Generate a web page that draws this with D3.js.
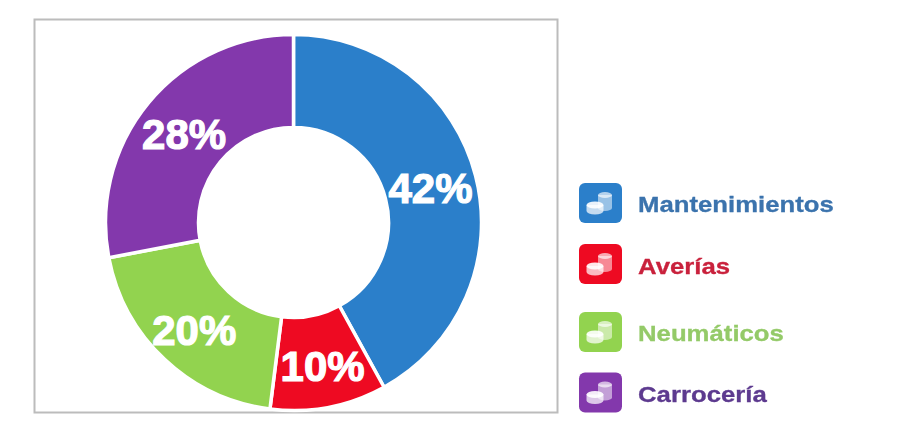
<!DOCTYPE html>
<html>
<head>
<meta charset="utf-8">
<script src="https://cdn.jsdelivr.net/npm/d3@7"></script>
<style>
html,body{margin:0;padding:0;background:#fff;overflow:hidden}
svg{display:block;filter:blur(0.45px)}
text{font-family:"Liberation Sans",Arial,sans-serif;font-weight:700}
</style>
</head>
<body>
<svg id="c" width="900" height="445"></svg>
<script>
const categories = ["Mantenimientos", "Averías", "Neumáticos", "Carrocería"];
const values = [42, 10, 20, 28];
const sliceColors = ["#2b7fca", "#ee0a22", "#92d34f", "#8338ac"];
const textColors = ["#3b73ad", "#c9213c", "#94ca68", "#5d3a8f"];

const svg = d3.select("#c");
svg.append("rect").attr("x", 34.5).attr("y", 19.5).attr("width", 523).attr("height", 393)
  .attr("fill", "#fff").attr("stroke", "#bcbcbc").attr("stroke-width", 2);

const cx = 293.5, cy = 222.5;
const pie = d3.pie().sort(null).value(d => d)(values);
const arc = d3.arc().innerRadius(95).outerRadius(188);
const g = svg.append("g").attr("transform", `translate(${cx},${cy})`);
g.selectAll("path").data(pie).join("path")
  .attr("d", arc)
  .attr("fill", (d, i) => sliceColors[i])
  .attr("stroke", "#fff").attr("stroke-width", 3.5).attr("stroke-linejoin", "miter");

// label centres along the ring, offset from the arc centroid like the reference
const labelShift = [[-0.5, 1], [2.5, 4], [-2, 4], [0, 2]];
const labelArc = d3.arc().innerRadius(142).outerRadius(142);
g.selectAll("text").data(pie).join("text")
  .attr("transform", (d, i) => {
    const c = labelArc.centroid(d);
    return `translate(${c[0] + labelShift[i][0]},${c[1] + labelShift[i][1]})`;
  })
  .attr("text-anchor", "middle").attr("dy", "0.36em")
  .attr("fill", "#fff").attr("stroke", "#fff").attr("stroke-width", 1.2)
  .attr("font-size", 42)
  .text(d => d.value + "%");

const rowY = d3.scaleOrdinal().domain(categories).range([203, 264, 332, 392.5]);
const legend = svg.append("g").selectAll("g").data(categories).join("g")
  .attr("transform", d => `translate(579,${rowY(d)})`);
legend.append("rect").attr("x", 0).attr("y", -20).attr("width", 43).attr("height", 40).attr("rx", 6)
  .attr("fill", (d, i) => sliceColors[i]);

function coin(sel, x, yTop, yBot, rx, ry, op) {
  sel.append("path")
    .attr("d", `M${x - rx},${yTop}V${yBot}A${rx},${ry} 0 0 0 ${x + rx},${yBot}V${yTop}Z`)
    .attr("fill", "#fff").attr("fill-opacity", op * 0.8);
  sel.append("ellipse").attr("cx", x).attr("cy", yTop).attr("rx", rx).attr("ry", ry)
    .attr("fill", "#fff").attr("fill-opacity", op);
}
legend.each(function () {
  const s = d3.select(this);
  coin(s, 26, -8, 5, 7, 3, 0.65);
  coin(s, 16, 2, 8, 8.5, 3.5, 0.9);
});

legend.append("text")
  .attr("transform", (d, i) => `translate(59,${[9, 10, 9, 9.5][i]}) scale(1.17,1)`)
  .attr("font-size", 22)
  .attr("fill", (d, i) => textColors[i])
  .attr("stroke", (d, i) => textColors[i]).attr("stroke-width", 0.3)
  .text(d => d);
</script>
</body>
</html>
